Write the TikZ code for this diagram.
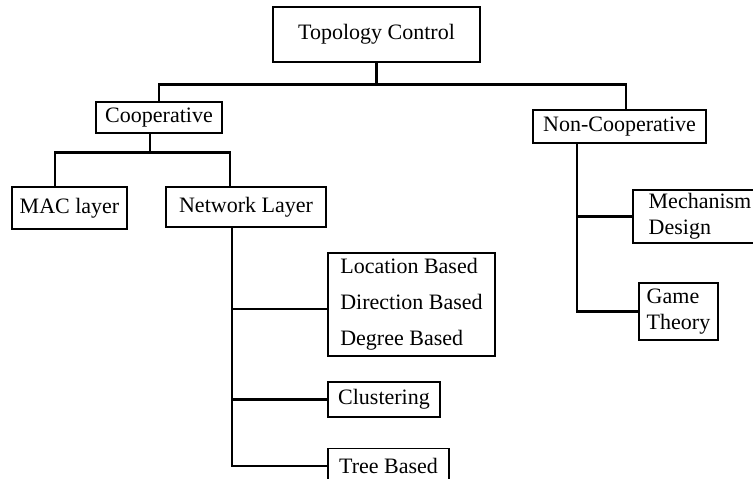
\documentclass[tikz,border=0pt]{standalone}
\usepackage{fontspec}
\setmainfont{Liberation Serif}
\usetikzlibrary{positioning}

\begin{document}
\begin{tikzpicture}[x=1pt, y=-1pt, font=\fontsize{22}{26}\selectfont,
  b/.style={draw, line width=1.2pt, inner sep=3pt, align=left, fill=white},
  l/.style={line width=2.6pt}]
\useasboundingbox (0,0) rectangle (753,479);
\node[b, minimum width=207pt, minimum height=55pt] (T) at (376.5,34.5) {Topology Control};
\node[b, minimum width=126pt, minimum height=31pt] (C) at (159,117.5) {Cooperative};
\node[b, minimum width=173pt, minimum height=33pt] (N) at (619.5,126.5) {Non-Cooperative};
\node[b, minimum width=115pt, minimum height=42pt] (MAC) at (69.5,208) {MAC layer};
\node[b, minimum width=160pt, minimum height=40pt] (NL) at (246,207) {Network Layer};
\node[b, minimum width=167pt, minimum height=103pt, font=\fontsize{22}{36}\selectfont] (LDB) at (411.5,304.5) {Location Based\\Direction Based\\Degree Based};
\node[b, minimum width=112pt, minimum height=35pt] (CL) at (384,399.5) {Clustering};
\node[b, minimum width=121pt, minimum height=35pt] (TB) at (388.5,466) {Tree Based};
\node[b, minimum width=134pt, minimum height=53pt] (MD) at (700,216.5) {Mechanism\\Design};
\node[b, minimum width=79pt, minimum height=57pt] (GT) at (678.5,311.5) {Game\\Theory};
\draw[l] (T.south) -- ++(0,22) coordinate (J); \draw[l] (J) -| (C.north); \draw[l] (J) -| ([xshift=6.5pt]N.north);
\draw[l] ([xshift=-9pt]C.south) -- ++(0,19) coordinate (CJ); \draw[l] (CJ) -| ([xshift=-14.5pt]MAC.north); \draw[l] (CJ) -| ([xshift=-16pt]NL.north);
\draw[l] ([xshift=-14pt]NL.south) |- ([yshift=-4.5pt]LDB.west); \draw[l] ([xshift=-14pt]NL.south) |- (CL.west); \draw[l] ([xshift=-14pt]NL.south) |- (TB.west);
\draw[l] ([xshift=-42.5pt]N.south) |- (MD.west); \draw[l] ([xshift=-42.5pt]N.south) |- (GT.west);
\end{tikzpicture}
\end{document}
